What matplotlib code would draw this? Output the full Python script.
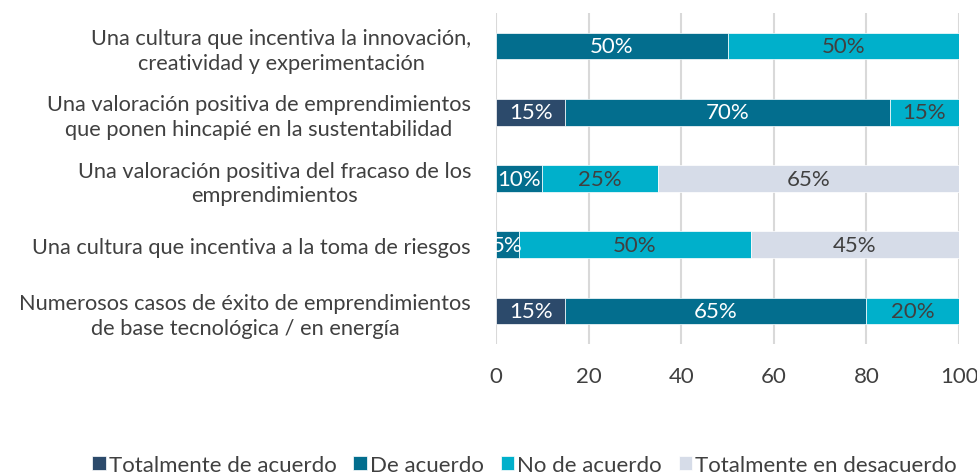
import numpy as np
import matplotlib.pyplot as plt

plt.rcParams['font.family'] = ['Lato', 'DejaVu Sans']

categories = [
    'Una cultura que incentiva la innovación,\ncreatividad y experimentación',
    'Una valoración positiva de emprendimientos\nque ponen hincapié en la sustentabilidad',
    'Una valoración positiva del fracaso de los\nemprendimientos',
    'Una cultura que incentiva a la toma de riesgos',
    'Numerosos casos de éxito de emprendimientos\nde base tecnológica / en energía',
]
series_names = ['Totalmente de acuerdo', 'De acuerdo', 'No de acuerdo',
                'Totalmente en desacuerdo']
tot_acuerdo = [0, 15, 0, 0, 15]
de_acuerdo = [50, 70, 10, 5, 65]
no_acuerdo = [50, 15, 25, 50, 20]
tot_desacuerdo = [0, 0, 65, 45, 0]

colors = ['#2C4A6B', '#036E8E', '#00B0CB', '#D6DCE8']
text_colors = ['white', 'white', '#404040', '#404040']

fig = plt.figure(figsize=(9.77, 4.77), dpi=100)
ax = fig.add_axes([0.5077, 0.2767, 0.4739, 0.6939])

y = np.arange(len(categories))
left = np.zeros(len(categories))
for name, vals, c, tc in zip(series_names,
                             [tot_acuerdo, de_acuerdo, no_acuerdo, tot_desacuerdo],
                             colors, text_colors):
    vals = np.array(vals, dtype=float)
    ax.barh(y, vals, left=left, height=0.4, color=c, label=name,
            edgecolor='white', linewidth=0.5, zorder=3)
    for yi, (l, v) in enumerate(zip(left, vals)):
        if v > 0:
            ax.text(l + v / 2, yi, '%d%%' % v, ha='center', va='center',
                    color=tc, fontsize=16, zorder=4, clip_on=True)
    left += vals

ax.set_ylim(len(categories) - 0.5, -0.5)
ax.set_xlim(0, 100)
ax.set_xticks([0, 20, 40, 60, 80, 100])
ax.set_yticks(y)
ax.set_yticklabels(categories, fontsize=15.7, color='#404040', ha='right',
                   multialignment='center', linespacing=1.3)
ax.tick_params(axis='y', length=0, pad=18)
ax.tick_params(axis='x', length=0, labelsize=16, labelcolor='#404040', pad=16)
ax.grid(axis='x', color='#D9D9D9', linewidth=1.5, zorder=0)
for s in ax.spines.values():
    s.set_visible(False)

handles, labels = ax.get_legend_handles_labels()
fig.legend(handles, labels, loc='center', bbox_to_anchor=(0.537, 0.023),
           ncol=4, frameon=False, fontsize=16, handlelength=0.6,
           handleheight=0.6, handletextpad=0.15, columnspacing=0.75,
           labelcolor='#404040')

plt.savefig('out.png', dpi=100)
plt.close()
